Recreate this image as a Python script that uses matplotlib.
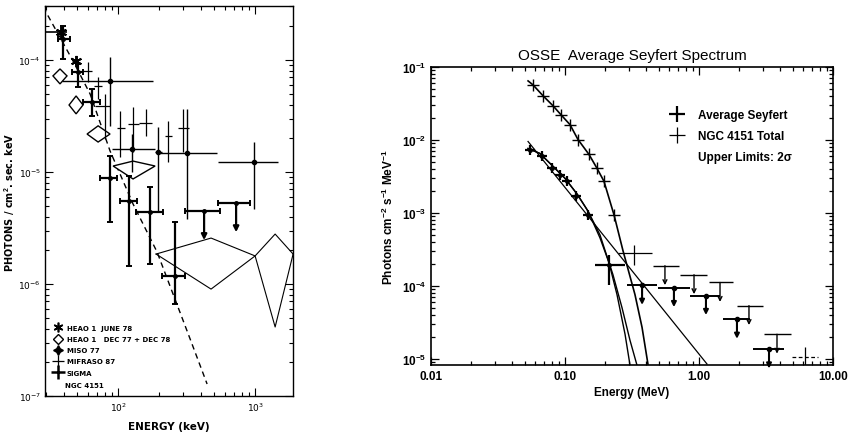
import numpy as np
import matplotlib
matplotlib.use('Agg')
import matplotlib.pyplot as plt
from matplotlib.lines import Line2D
from matplotlib import transforms
from matplotlib.ticker import LogLocator, FuncFormatter, NullFormatter

plt.rcParams['mathtext.fontset'] = 'custom'
plt.rcParams['mathtext.rm'] = 'Liberation Sans:bold'
plt.rcParams['mathtext.bf'] = 'Liberation Sans:bold'
plt.rcParams['mathtext.it'] = 'Liberation Sans:bold'

# ---------------- Left panel data (keV ; photons / cm2 s keV) ----------------
heao_jun_E = [38.5, 49.4]
heao_jun_Elo = [28.0, 47.5]
heao_jun_Ehi = [42.4, 51.5]
heao_jun_F = [1.78e-4, 9.8e-5]

heao_dec_E = [37.7, 49.4, 71.5, 128.6]
heao_dec_Elo = [33.5, 43.9, 59.4, 92.0]
heao_dec_Ehi = [42.4, 55.5, 87.4, 186.3]
heao_dec_F = [7.2e-5, 3.96e-5, 2.18e-5, 1.13e-5]
heao_dec_Flo = [6.11e-5, 3.30e-5, 1.85e-5, 8.66e-6]
heao_dec_Fhi = [8.31e-5, 4.77e-5, 2.58e-5, 1.25e-5]

sigma_E = [39.7, 51.1, 64.6, 87.4, 120.3, 171.2, 260.6]
sigma_Elo = [36.5, 46.1, 55.5, 73.9, 103.4, 135.3, 209.5]
sigma_Ehi = [44.7, 55.5, 73.9, 98.4, 137.6, 213.0, 308.3]
sigma_F = [1.54e-4, 7.82e-5, 4.22e-5, 8.83e-6, 5.51e-6, 4.40e-6, 1.18e-6]
sigma_Flo = [1.02e-4, 5.74e-5, 3.16e-5, 3.58e-6, 1.45e-6, 1.51e-6, 6.63e-7]
sigma_Fhi = [2.01e-4, 9.2e-5, 5.51e-5, 1.39e-5, 9.2e-6, 7.35e-6, 3.58e-6]
sigma_ul_E = [424.4, 726.6]
sigma_ul_Elo = [308.3, 537.0]
sigma_ul_Ehi = [555.3, 919.6]
sigma_ul_F = [4.49e-6, 5.28e-6]

miso_E = [87.4, 126.5, 195.8, 318.8, 983.3]
miso_Elo = [39.0, 90.4, 186.3, 192.6, 537.0]
miso_Ehi = [180.0, 186.3, 209.5, 528.1, 1472.0]
miso_F = [6.49e-5, 1.60e-5, 1.51e-5, 1.48e-5, 1.23e-5]
miso_Flo = [2.58e-5, 1.0e-5, 4.49e-6, 3.80e-6, 4.68e-6]
miso_Fhi = [1.06e-4, 2.2e-5, 2.52e-5, 3.65e-5, 1.85e-5]

mif_E = [60.4, 71.5, 80.4, 103.4, 128.6, 160.1, 231.6, 298.1]
mif_Elo = [55.5, 66.8, 67.9, 98.4, 118.3, 142.3, 220.4, 274.0]
mif_Ehi = [64.6, 76.4, 87.4, 112.5, 142.3, 177.0, 247.9, 330.0]
mif_F = [7.98e-5, 5.86e-5, 3.88e-5, 2.47e-5, 2.68e-5, 2.74e-5, 2.10e-5, 2.47e-5]
mif_Flo = [6.37e-5, 4.49e-5, 1.97e-5, 1.36e-5, 1.51e-5, 2.10e-5, 1.23e-5, 1.51e-5]
mif_Fhi = [9.6e-5, 7.05e-5, 4.97e-5, 3.51e-5, 3.80e-5, 3.65e-5, 2.85e-5, 3.65e-5]

contour_E = [189.4, 477.0, 1000.0, 1400.0, 1893.0]
contour_Fhi = [1.85e-6, 2.57e-6, 1.78e-6, 2.79e-6, 1.85e-6]
contour_Flo = [1.85e-6, 9.0e-7, 1.78e-6, 4.13e-7, 1.85e-6]

model_E = [28.4, 46.9, 62.5, 87.4, 128.6, 192.6, 335.5, 446.3]
model_F = [2.97e-4, 9.8e-5, 4.97e-5, 1.54e-5, 5.18e-6, 1.93e-6, 3.23e-7, 1.28e-7]

left_legend = ['HEAO 1  JUNE 78', 'HEAO 1   DEC 77 + DEC 78', 'MISO 77', 'MIFRASO 87', 'SIGMA']

# ---------------- Right panel data (MeV ; photons cm-2 s-1 MeV-1) ----------------
ngc_E = [0.0577, 0.0686, 0.0813, 0.0933, 0.1089, 0.1250, 0.1510, 0.1734, 0.1954, 0.2323]
ngc_F = [0.0569, 0.0403, 0.0295, 0.0222, 0.01626, 0.01016, 0.00635, 0.00409, 0.00272, 0.00094]
ngc_hi_E = [0.327]
ngc_hi_Elo = [0.249]
ngc_hi_Ehi = [0.446]
ngc_hi_F = [2.86e-4]
ngc_hi_Flo = [1.96e-4]
ngc_hi_Fhi = [3.67e-4]
ngc_ul_E = [0.557, 0.918, 1.435, 2.36, 3.82]
ngc_ul_Elo = [0.454, 0.721, 1.188, 1.92, 3.05]
ngc_ul_Ehi = [0.710, 1.148, 1.795, 3.01, 4.86]
ngc_ul_F = [1.90e-4, 1.43e-4, 1.12e-4, 5.4e-5, 2.19e-5]
ngc_last_E = [6.18]
ngc_last_Elo = [4.94]
ngc_last_Ehi = [7.73]
ngc_last_F = [1.06e-5]
ngc_last_Flo = [8.3e-6]
ngc_last_Fhi = [1.46e-5]

avg_E = [0.0548, 0.0673, 0.0800, 0.0918, 0.1035, 0.1208, 0.1486]
avg_F = [0.00720, 0.00597, 0.00409, 0.00329, 0.00272, 0.00170, 0.00094]
avg_hi_E = [0.213]
avg_hi_Elo = [0.1675]
avg_hi_Ehi = [0.2806]
avg_hi_F = [1.96e-4]
avg_hi_Flo = [1.05e-4]
avg_hi_Fhi = [2.69e-4]
avg_ul_E = [0.376, 0.650, 1.127, 1.92, 3.33]
avg_ul_Elo = [0.290, 0.494, 0.857, 1.51, 2.53]
avg_ul_Ehi = [0.487, 0.857, 1.435, 2.40, 4.31]
avg_ul_F = [1.02e-4, 9.5e-5, 7.4e-5, 3.5e-5, 1.37e-5]

ngc_model_E = [0.0530, 0.0577, 0.0686, 0.0813, 0.0933, 0.1089, 0.1250, 0.1510, 0.1734,
               0.1954, 0.2323, 0.2710, 0.3327, 0.3758, 0.4159]
ngc_model_F = [0.0645, 0.0569, 0.0403, 0.0295, 0.0222, 0.01626, 0.01016, 0.00635, 0.00409,
               0.00272, 0.00094, 3.04e-4, 7.66e-5, 2.72e-5, 8.55e-6]
avg_modelA_E = [0.0530, 0.0650, 0.0800, 0.100, 0.1231, 0.1486, 0.1824, 0.2130, 0.2443, 0.2806, 0.3055]
avg_modelA_F = [0.00766, 0.00655, 0.00450, 0.00299, 0.00182, 0.00106, 4.57e-4, 2.09e-4, 7.66e-5, 2.19e-5, 8.28e-6]
avg_modelB_E = [0.0530, 0.0650, 0.0800, 0.100, 0.1231, 0.1486, 0.1824, 0.2280, 0.2661, 0.3055, 0.3443]
avg_modelB_F = [0.00766, 0.00655, 0.00450, 0.00299, 0.00182, 0.00106, 5.02e-4, 1.43e-4, 5.09e-5, 1.81e-5, 8.28e-6]
powerlaw_E = [0.0530, 1.148]
powerlaw_F = [0.00955, 8.55e-6]

right_xticks = [0.01, 0.1, 1.0, 10.0]


def err(v, lo, hi):
    v = np.asarray(v); lo = np.asarray(lo); hi = np.asarray(hi)
    return np.vstack([v - lo, hi - v])


def down_arrow(ax, x, y, length_pt, style='-|>', lw=1.2, ms=7):
    tr = transforms.offset_copy(ax.transData, fig=ax.figure, y=-length_pt, units='points')
    ax.annotate('', xy=(x, y), xycoords=tr, xytext=(x, y), textcoords='data',
                arrowprops=dict(arrowstyle=style, color='k', lw=lw, shrinkA=0, shrinkB=0,
                                mutation_scale=ms))


fig = plt.figure(figsize=(8.51, 4.35), dpi=100)
fig.patch.set_facecolor('white')

# =========================== LEFT PANEL ===========================
axL = fig.add_axes([45 / 851, 1 - 397 / 435, 248 / 851, 390 / 435])
axL.set_xscale('log')
axL.set_yscale('log')
axL.set_xlim(29.3, 1890)
axL.set_ylim(1e-7, 3.03e-4)

axL.plot(model_E, model_F, ls=(0, (4, 3)), color='k', lw=1.0)

axL.plot(contour_E, contour_Fhi, color='k', lw=0.8)
axL.plot(contour_E, contour_Flo, color='k', lw=0.8)

for e, elo, ehi, f, flo, fhi in zip(heao_dec_E, heao_dec_Elo, heao_dec_Ehi,
                                    heao_dec_F, heao_dec_Flo, heao_dec_Fhi):
    axL.fill([elo, e, ehi, e], [f, fhi, f, flo], facecolor='white', edgecolor='k', lw=1.0, zorder=3)

axL.errorbar(mif_E, mif_F, xerr=err(mif_E, mif_Elo, mif_Ehi), yerr=err(mif_F, mif_Flo, mif_Fhi),
             fmt='none', ecolor='k', elinewidth=0.9, capsize=0, zorder=4)

axL.errorbar(miso_E, miso_F, xerr=err(miso_E, miso_Elo, miso_Ehi), yerr=err(miso_F, miso_Flo, miso_Fhi),
             fmt='o', ms=3, color='k', ecolor='k', elinewidth=1.0, capsize=0, zorder=4)

sig = axL.errorbar(sigma_E, sigma_F, xerr=err(sigma_E, sigma_Elo, sigma_Ehi),
                   yerr=err(sigma_F, sigma_Flo, sigma_Fhi),
                   fmt='o', ms=2.5, color='k', ecolor='k', elinewidth=1.6, capsize=2, capthick=1.4, zorder=5)
axL.errorbar(sigma_ul_E, sigma_ul_F, xerr=err(sigma_ul_E, sigma_ul_Elo, sigma_ul_Ehi),
             fmt='o', ms=2.5, color='k', ecolor='k', elinewidth=1.6, capsize=2, capthick=1.4, zorder=5)
for e, f in zip(sigma_ul_E, sigma_ul_F):
    down_arrow(axL, e, f, 21, lw=1.6, ms=8)

axL.errorbar(heao_jun_E, heao_jun_F, xerr=err(heao_jun_E, heao_jun_Elo, heao_jun_Ehi),
             fmt='none', ecolor='k', elinewidth=1.2, capsize=0, zorder=5)
axL.plot(heao_jun_E, heao_jun_F, ls='none', marker=(6, 2, 0), ms=8, mew=1.4, color='k', zorder=6)

axL.tick_params(which='both', direction='in', top=True, right=True, width=0.8)
axL.tick_params(which='major', length=6, labelsize=6.5, pad=3)
axL.tick_params(which='minor', length=3)
axL.xaxis.set_major_locator(LogLocator(base=10, numticks=10))
axL.xaxis.set_minor_locator(LogLocator(base=10, subs=np.arange(2, 10), numticks=10))
axL.yaxis.set_major_locator(LogLocator(base=10, numticks=10))
axL.yaxis.set_minor_locator(LogLocator(base=10, subs=np.arange(2, 10), numticks=10))
axL.yaxis.set_minor_formatter(NullFormatter())
axL.xaxis.set_minor_formatter(NullFormatter())
for sp in axL.spines.values():
    sp.set_linewidth(1.0)

axL.set_xlabel('ENERGY (keV)', fontsize=7.5, fontweight='bold', labelpad=6)
axL.set_ylabel('PHOTONS / cm$^2$. sec. keV', fontsize=7, fontweight='bold', labelpad=1)

hl = [Line2D([], [], ls='none', marker=(6, 2, 0), ms=7, mew=1.2, color='k'),
      Line2D([], [], ls='none', marker='D', ms=5.5, mfc='white', mec='k', mew=1.0),
      Line2D([], [], ls='none', marker=(4, 1, 0), ms=7, color='k'),
      Line2D([], [], ls='none', marker='+', ms=8, mew=0.9, color='k'),
      Line2D([], [], ls='none', marker='+', ms=10, mew=1.8, color='k')]
axL.legend(hl, left_legend, loc='lower left', bbox_to_anchor=(0.02, 0.045), frameon=False,
           prop=dict(size=5, weight='bold'), handlelength=1.6, handletextpad=0.4,
           labelspacing=0.75, borderaxespad=0)
axL.text(0.08, 0.027, 'NGC 4151', transform=axL.transAxes, fontsize=5, fontweight='bold',
         va='center', ha='left')

# =========================== RIGHT PANEL ===========================
axR = fig.add_axes([431 / 851, 1 - 366 / 435, 402 / 851, 298 / 435])
axR.set_xscale('log')
axR.set_yscale('log')
axR.set_xlim(0.01, 10.0)
axR.set_ylim(8.3e-6, 0.1)

axR.plot(ngc_model_E, ngc_model_F, color='k', lw=1.2)
axR.plot(avg_modelA_E, avg_modelA_F, color='k', lw=1.0)
axR.plot(avg_modelB_E, avg_modelB_F, color='k', lw=1.0)
axR.plot(powerlaw_E, powerlaw_F, color='k', lw=0.9)

axR.plot(ngc_E, ngc_F, ls='none', marker='+', ms=8, mew=1.0, color='k')
axR.errorbar(ngc_hi_E, ngc_hi_F, xerr=err(ngc_hi_E, ngc_hi_Elo, ngc_hi_Ehi),
             yerr=err(ngc_hi_F, ngc_hi_Flo, ngc_hi_Fhi), fmt='none', ecolor='k', elinewidth=0.9)
axR.errorbar(ngc_ul_E, ngc_ul_F, xerr=err(ngc_ul_E, ngc_ul_Elo, ngc_ul_Ehi),
             fmt='none', ecolor='k', elinewidth=1.0)
for e, f in zip(ngc_ul_E, ngc_ul_F):
    down_arrow(axR, e, f, 14, style='->', lw=1.0, ms=7)
axR.hlines(ngc_last_F, ngc_last_Elo, ngc_last_Ehi, colors='k', linestyles=(0, (3, 2)), lw=0.9)
axR.vlines(ngc_last_E, ngc_last_Flo, ngc_last_Fhi, colors='k', lw=0.9)

axR.plot(avg_E, avg_F, ls='none', marker='+', ms=7, mew=1.6, color='k')
axR.plot(avg_E, avg_F, ls='none', marker='o', ms=2.5, color='k')
axR.errorbar(avg_hi_E, avg_hi_F, xerr=err(avg_hi_E, avg_hi_Elo, avg_hi_Ehi),
             yerr=err(avg_hi_F, avg_hi_Flo, avg_hi_Fhi), fmt='o', ms=2.5, color='k',
             ecolor='k', elinewidth=1.6)
axR.errorbar(avg_ul_E, avg_ul_F, xerr=err(avg_ul_E, avg_ul_Elo, avg_ul_Ehi),
             fmt='o', ms=3, color='k', ecolor='k', elinewidth=1.4)
for e, f in zip(avg_ul_E, avg_ul_F):
    down_arrow(axR, e, f, 14, style='-|>', lw=1.5, ms=7)

axR.tick_params(which='both', direction='in', top=True, right=True, width=0.9)
axR.tick_params(which='major', length=6, labelsize=8.5)
axR.tick_params(which='minor', length=3)
axR.xaxis.set_major_locator(LogLocator(base=10, numticks=10))
axR.xaxis.set_minor_locator(LogLocator(base=10, subs=np.arange(2, 10), numticks=10))
axR.set_xticks(right_xticks)
axR.xaxis.set_major_formatter(FuncFormatter(lambda v, p: '%.2f' % v))
axR.xaxis.set_minor_formatter(NullFormatter())
axR.yaxis.set_major_locator(LogLocator(base=10, numticks=10))
axR.yaxis.set_minor_locator(LogLocator(base=10, subs=np.arange(2, 10), numticks=10))
axR.yaxis.set_minor_formatter(NullFormatter())
for lab in axR.get_xticklabels() + axR.get_yticklabels():
    lab.set_fontfamily('Liberation Sans')
    lab.set_fontweight('bold')
for sp in axR.spines.values():
    sp.set_linewidth(1.2)

axR.set_title('OSSE  Average Seyfert Spectrum', fontsize=11, family='Liberation Sans', pad=6)
axR.set_xlabel('Energy (MeV)', fontsize=8.5, family='Liberation Sans', fontweight='bold', labelpad=3)
axR.set_ylabel('Photons cm$^{-2}$ s$^{-1}$ MeV$^{-1}$', fontsize=8.5, family='Liberation Sans',
               fontweight='bold', labelpad=4)

hr = [Line2D([], [], ls='none', marker='+', ms=11, mew=1.6, color='k'),
      Line2D([], [], ls='none', marker='+', ms=11, mew=0.9, color='k'),
      Line2D([], [], ls='none', marker='', color='none')]
axR.legend(hr, ['Average Seyfert', 'NGC 4151 Total', 'Upper Limits: 2\u03c3'],
           loc='upper left', bbox_to_anchor=(0.575, 0.875), frameon=False,
           prop=dict(family='Liberation Sans', size=8.5, weight='bold'),
           handlelength=1.8, handletextpad=0.8, labelspacing=0.75, borderaxespad=0)

fig.savefig('out.png', dpi=100, facecolor='white')
